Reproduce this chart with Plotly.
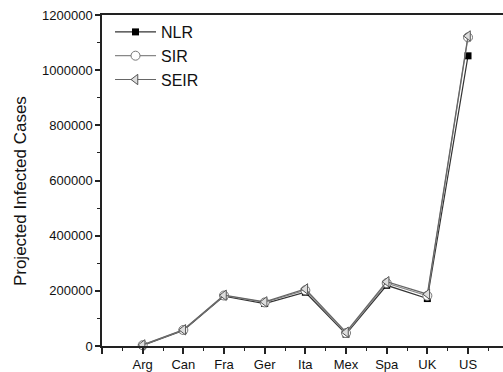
import plotly.graph_objects as go

categories = ["Arg", "Can", "Fra", "Ger", "Ita", "Mex", "Spa", "UK", "US"]
nlr = [2000, 56000, 181000, 154000, 195000, 43000, 220000, 172000, 1052000]
sir = [3000, 58000, 183000, 158000, 202000, 47000, 228000, 182000, 1119000]
seir = [4000, 59000, 184000, 160000, 207000, 50000, 233000, 188000, 1124000]

positions = list(range(1, len(categories) + 1))

fig = go.Figure()
fig.add_trace(go.Scatter(
    x=positions, y=nlr, name="NLR", mode="lines+markers", cliponaxis=False,
    line=dict(color="#333333", width=1.2),
    marker=dict(symbol="square", size=7, color="black", line=dict(color="black", width=0)),
))
fig.add_trace(go.Scatter(
    x=positions, y=sir, name="SIR", mode="lines+markers", cliponaxis=False,
    line=dict(color="#888888", width=1.2),
    marker=dict(symbol="circle", size=9, color="white", line=dict(color="#777777", width=1)),
))
fig.add_trace(go.Scatter(
    x=positions, y=seir, name="SEIR", mode="lines+markers", cliponaxis=False,
    line=dict(color="#666666", width=1.2),
    marker=dict(symbol="triangle-left", size=9, color="#dddddd", line=dict(color="#555555", width=1)),
))

fig.update_layout(
    width=503, height=372,
    margin=dict(l=102, r=0, t=15, b=26),
    paper_bgcolor="white", plot_bgcolor="white",
    font=dict(family="Liberation Sans, Arial, sans-serif", color="#111111", size=13),
    showlegend=True,
    legend=dict(
        x=0.02, y=1.0, xanchor="left", yanchor="top",
        bgcolor="rgba(0,0,0,0)", borderwidth=0,
        font=dict(size=16, color="#111111"),
        tracegroupgap=0, itemsizing="trace", itemwidth=41,
    ),
    annotations=[dict(
        text="Projected Infected Cases", textangle=-90,
        xref="paper", yref="paper", x=-0.2045, y=0.468,
        xanchor="center", yanchor="middle", showarrow=False,
        font=dict(size=17, color="#111111"),
    )],
)

fig.update_xaxes(
    range=[0, 9.86],
    tickmode="array",
    tickvals=[0] + positions,
    ticktext=[""] + categories,
    ticks="outside", ticklen=6, tickwidth=1.5, tickcolor="#222222",
    minor=dict(tickmode="array", tickvals=[p - 0.5 for p in positions] + [positions[-1] + 0.5],
               ticks="outside", ticklen=3, tickwidth=1.2, tickcolor="#222222"),
    showline=True, linecolor="#222222", linewidth=1.5, mirror=True,
    showgrid=False, zeroline=False,
    tickfont=dict(size=13),
)
fig.update_yaxes(
    range=[0, 1200000],
    tickmode="linear", tick0=0, dtick=200000, tickformat="d",
    ticks="outside", ticklen=5, tickwidth=1.5, tickcolor="#222222",
    minor=dict(dtick=100000, ticks="outside", ticklen=3, tickwidth=1.2, tickcolor="#222222"),
    showline=True, linecolor="#222222", linewidth=1.5,
    showgrid=False, zeroline=False,
    tickfont=dict(size=13),
)

fig.write_html("out.html")
